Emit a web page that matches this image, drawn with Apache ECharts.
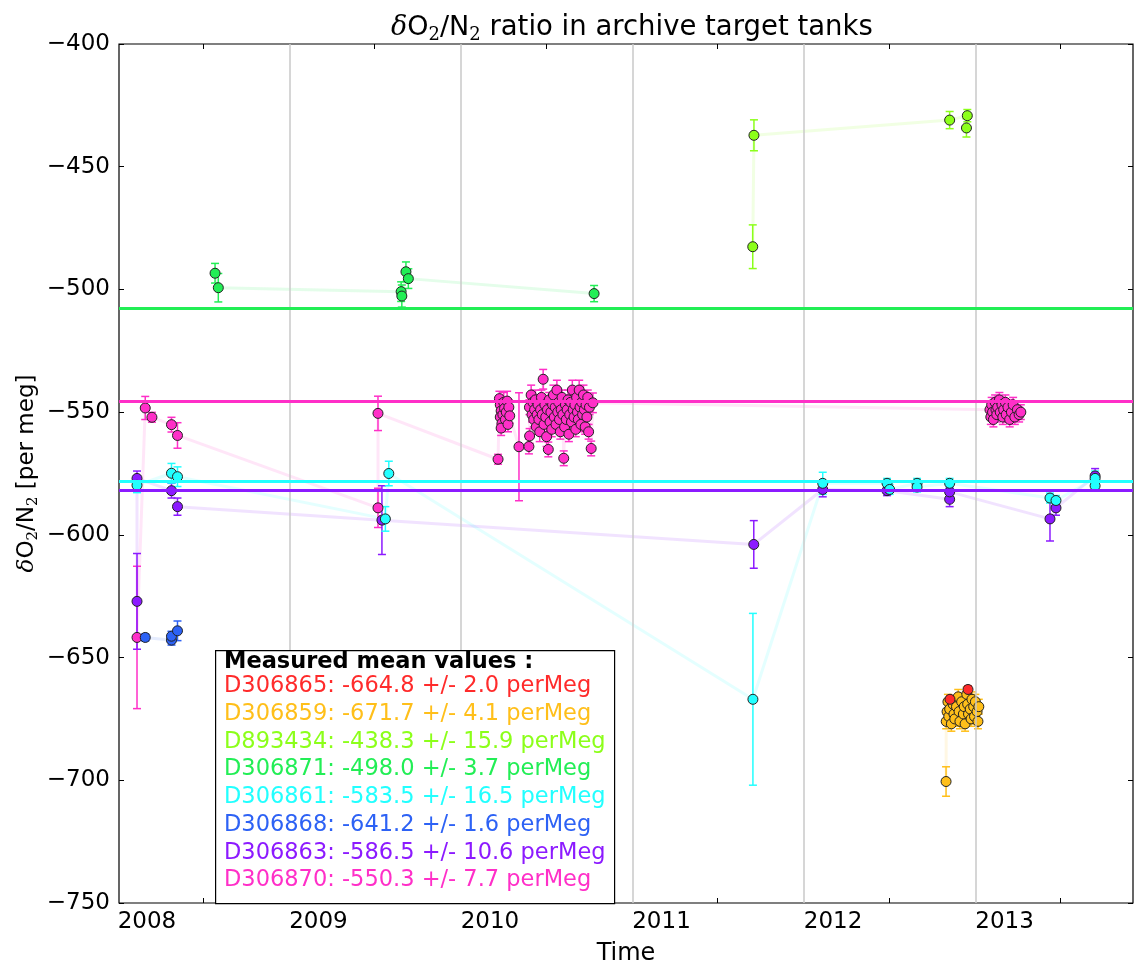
<!DOCTYPE html>
<html>
<head>
<meta charset="utf-8">
<title>dO2/N2 ratio in archive target tanks</title>
<script src="https://cdn.jsdelivr.net/npm/echarts@6/dist/echarts.min.js"></script>
<style>
  html, body { margin: 0; padding: 0; background: #fff; }
  #chart { width: 1134px; height: 960px; }
</style>
</head>
<body>
<div id="chart"></div>
<script>
// x axis is decimal years
const xMin = 2007.837;
const xMax = 2013.749;
const yearLabels = [2008, 2009, 2010, 2011, 2012, 2013];
const xTickValues = [2008.327, 2009.327, 2010.327, 2011.327, 2012.327, 2013.327];
const gridLineValues = [2008.833, 2009.833, 2010.833, 2011.833, 2012.833];
const yMin = -750, yMax = -400, yStep = 50;

// tanks, in legend order
const tankNames = ['D306865', 'D306859', 'D893434', 'D306871', 'D306861', 'D306868', 'D306863', 'D306870'];
const tankColors = ['#ff2b2b', '#ffbf1a', '#8cff1a', '#22ee55', '#22ffff', '#2d62f5', '#8c1aff', '#ff2fc8'];
const tankMeans = [-664.8, -671.7, -438.3, -498.0, -583.5, -641.2, -586.5, -550.3];
const tankErrs = [2.0, 4.1, 15.9, 3.7, 16.5, 1.6, 10.6, 7.7];

// horizontal reference lines
const refTanks = ['D306871', 'D306870', 'D306861', 'D306863'];
const refValues = [-507.7, -545.5, -578.0, -582.0];

// measurements: [time, value, error]
const d306865 = [[2012.682, -667.0, 1.5], [2012.787, -663.0, 1.5]];
const d306859 = [
  [2012.659, -700.5, 6], [2012.66, -676, 3], [2012.665, -672, 3], [2012.67, -668, 3], [2012.675, -674, 3],
  [2012.68, -671, 3], [2012.69, -677, 3], [2012.70, -669, 3], [2012.705, -673, 3], [2012.71, -675, 3],
  [2012.72, -670, 3], [2012.73, -666, 3], [2012.735, -672, 3], [2012.74, -676, 3], [2012.75, -668, 3],
  [2012.76, -673, 3], [2012.765, -670, 3], [2012.77, -677, 3], [2012.78, -665, 3], [2012.785, -669, 3],
  [2012.79, -673, 3], [2012.80, -671, 3], [2012.805, -675, 3], [2012.81, -667, 3], [2012.82, -670, 3],
  [2012.825, -674, 3], [2012.83, -668, 3], [2012.84, -672, 3], [2012.845, -676, 3], [2012.85, -670, 3]
];
const d893434 = [[2011.532, -482.6, 8.9], [2011.539, -437.2, 6.3], [2012.680, -431.0, 3.5], [2012.783, -429.2, 2.5], [2012.778, -434.2, 3.7]];
const d306871 = [[2008.397, -493.4, 4], [2008.416, -499.3, 5.8], [2009.482, -500.9, 4], [2009.486, -502.7, 4.5], [2009.510, -492.8, 4], [2009.524, -495.6, 4], [2010.607, -501.7, 3.3]];
const d306861 = [
  [2007.942, -579.8, 3], [2008.143, -574.9, 4], [2008.178, -576.3, 4], [2009.39, -593.5, 5], [2009.41, -575, 5],
  [2011.533, -667, 35], [2011.94, -579, 4.5], [2012.315, -579, 2], [2012.33, -581.5, 2], [2012.49, -579, 2],
  [2012.49, -580.5, 2], [2012.68, -579, 2], [2013.265, -585, 2], [2013.30, -586, 2], [2013.528, -577, 3], [2013.528, -580, 2]
];
const d306868 = [[2007.990, -641.8, 1.5], [2008.143, -642.9, 2], [2008.143, -641.3, 2], [2008.178, -639.1, 4]];
const d306863 = [
  [2007.942, -627.1, 19.5], [2007.942, -577, 3], [2008.143, -582, 3], [2008.178, -588.5, 3.5], [2009.37, -594, 14],
  [2011.538, -603.9, 9.7], [2011.94, -581.5, 3], [2012.315, -582, 2], [2012.68, -585.5, 3], [2012.68, -582.5, 2],
  [2013.265, -593.5, 9], [2013.30, -589, 3], [2013.528, -576, 3]
];
const d306870 = [
  [2007.942, -641.8, 29], [2007.990, -548.3, 4.7], [2008.029, -552.1, 2], [2008.143, -555.1, 3], [2008.178, -559.5, 5.2],
  [2009.347, -589, 8], [2009.347, -550.5, 7], [2010.047, -569.2, 2],
  [2010.055, -544.5, 3], [2010.06, -547, 3], [2010.065, -549.5, 3], [2010.06, -552, 3], [2010.07, -554.5, 3],
  [2010.065, -556.5, 3], [2010.075, -551, 3], [2010.08, -546, 4], [2010.085, -548.5, 3], [2010.09, -553, 3],
  [2010.095, -550, 3], [2010.1, -545.5, 4], [2010.105, -555, 3], [2010.11, -548, 3], [2010.115, -551.5, 3],
  [2010.169, -564.1, 22], [2010.227, -564, 3], [2010.231, -559.7, 3],
  [2010.23, -548, 3], [2010.24, -543, 4], [2010.245, -551, 3], [2010.25, -546, 3], [2010.255, -553, 3],
  [2010.26, -549, 3], [2010.265, -545, 4], [2010.27, -556, 3], [2010.275, -551, 3], [2010.28, -547, 3],
  [2010.285, -553, 3], [2010.29, -558, 4], [2010.295, -549, 3], [2010.30, -544, 3], [2010.305, -551, 3],
  [2010.31, -536.6, 4], [2010.315, -555, 3], [2010.32, -547, 3], [2010.325, -552, 3], [2010.33, -560, 4],
  [2010.335, -549, 3], [2010.34, -565.2, 3], [2010.345, -545, 3], [2010.35, -554, 3], [2010.355, -550, 3],
  [2010.36, -557, 3], [2010.365, -547, 3], [2010.37, -543, 4], [2010.375, -552, 3], [2010.38, -548, 3],
  [2010.385, -555, 3], [2010.39, -541, 4], [2010.395, -550, 3], [2010.40, -546, 3], [2010.405, -553, 3],
  [2010.41, -558, 3], [2010.415, -549, 3], [2010.42, -544, 3], [2010.425, -551, 3], [2010.43, -568.8, 3],
  [2010.435, -556, 3], [2010.44, -547, 3], [2010.445, -553, 3], [2010.45, -549, 3], [2010.455, -545, 4],
  [2010.46, -559, 3], [2010.465, -551, 3], [2010.47, -546, 3], [2010.475, -554, 3], [2010.48, -541, 4],
  [2010.485, -549, 3], [2010.49, -552, 3], [2010.495, -547, 3], [2010.50, -557, 3], [2010.505, -544, 3],
  [2010.51, -550, 3], [2010.515, -553, 3], [2010.52, -541, 4], [2010.525, -548, 3], [2010.53, -555, 3],
  [2010.535, -546, 3], [2010.54, -551, 3], [2010.545, -543, 4], [2010.55, -549, 3], [2010.555, -556, 3],
  [2010.56, -547, 3], [2010.565, -552, 3], [2010.57, -544, 3], [2010.575, -558, 3], [2010.58, -548, 3],
  [2010.59, -564.8, 3], [2010.60, -546.2, 4],
  [2012.915, -549, 3], [2012.92, -552, 3], [2012.925, -547, 3], [2012.93, -550, 3], [2012.935, -553, 3],
  [2012.945, -546, 3], [2012.95, -549, 3], [2012.955, -551, 3], [2012.96, -548, 3], [2012.97, -545, 3],
  [2012.975, -550, 3], [2012.985, -547, 3], [2012.99, -552, 3], [2012.995, -549, 3], [2013.005, -546, 3],
  [2013.01, -551, 3], [2013.02, -548, 3], [2013.03, -553, 3], [2013.04, -550, 3], [2013.05, -547, 3],
  [2013.06, -552, 3], [2013.075, -549, 3], [2013.085, -551, 3], [2013.095, -550, 3]
];
const tankData = [d306865, d306859, d893434, d306871, d306861, d306868, d306863, d306870];

const FONT = 'DejaVu Sans';
const fmtMinus = v => String(v).replace('-', '\u2212');

// vertical error bar with caps
function errorBar(color) {
  return function (params, api) {
    const x = api.value(0), y = api.value(1), e = api.value(2);
    const top = api.coord([x, y + e]);
    const bot = api.coord([x, y - e]);
    const st = { stroke: color, lineWidth: 1.5 };
    return {
      type: 'group',
      children: [
        { type: 'line', shape: { x1: top[0], y1: top[1], x2: bot[0], y2: bot[1] }, style: st },
        { type: 'line', shape: { x1: top[0] - 4, y1: top[1], x2: top[0] + 4, y2: top[1] }, style: st },
        { type: 'line', shape: { x1: bot[0] - 4, y1: bot[1], x2: bot[0] + 4, y2: bot[1] }, style: st }
      ]
    };
  };
}

let series = [];

// year gridlines
series.push({
  type: 'line', data: [], silent: true, z: 0,
  markLine: {
    symbol: 'none', silent: true, label: { show: false },
    lineStyle: { color: '#c8c8c8', width: 1.5, type: 'solid' },
    data: gridLineValues.map(v => ({ xAxis: v }))
  }
});

// drawn last tank first, so red ends up on top
const drawOrder = tankNames.map((n, i) => i).reverse();

drawOrder.forEach(i => {
  const pts = tankData[i];
  const col = tankColors[i];
  // faint connecting line
  series.push({
    name: tankNames[i] + ' trend', type: 'line', data: pts.map(p => [p[0], p[1]]),
    showSymbol: false, silent: true, z: 1,
    lineStyle: { color: col, width: 3, opacity: 0.12 }
  });
  series.push({
    name: tankNames[i] + ' err', type: 'custom', data: pts, z: 2, silent: true,
    encode: { x: 0, y: 1 },
    renderItem: errorBar(col)
  });
});

// reference lines
refTanks.forEach((t, k) => {
  const col = tankColors[tankNames.indexOf(t)];
  series.push({
    type: 'line', data: [], silent: true, z: 3,
    markLine: {
      symbol: 'none', silent: true, label: { show: false },
      lineStyle: { color: col, width: 3, type: 'solid', opacity: 1 },
      data: [{ yAxis: refValues[k] }]
    }
  });
});

drawOrder.forEach(i => {
  series.push({
    name: tankNames[i], type: 'scatter', data: tankData[i].map(p => [p[0], p[1]]),
    symbolSize: 10, z: 4,
    itemStyle: { color: tankColors[i], borderColor: '#222', borderWidth: 1, opacity: 1 }
  });
});

const chart = echarts.init(document.getElementById('chart'));

// legend box text
const legendLines = tankNames.map((n, i) => ({
  type: 'text', left: 224, top: 675 + i * 27.7, z: 102,
  style: {
    text: n + ': ' + tankMeans[i].toFixed(1) + ' +/- ' + tankErrs[i].toFixed(1) + ' perMeg',
    fill: tankColors[i], font: '22.5px "DejaVu Sans"'
  }
}));

const sub = { fontFamily: 'DejaVu Serif', fontWeight: 'normal', fontSize: 18, lineHeight: 20, padding: [14, 0, 0, 0] };

chart.setOption({
  animation: false,
  backgroundColor: '#fff',
  title: {
    text: '{d|δ}{m|O}{s|2}{m|/N}{s|2}{t| ratio in archive target tanks}',
    left: 386, top: 6,
    textStyle: {
      fontWeight: 'normal',
      rich: {
        d: { fontFamily: 'DejaVu Serif', fontStyle: 'italic', fontWeight: 'normal', fontSize: 27, lineHeight: 34, color: '#000' },
        m: { fontFamily: FONT, fontWeight: 'normal', fontSize: 27, lineHeight: 34, color: '#000' },
        s: Object.assign({ color: '#000' }, sub),
        t: { fontFamily: FONT, fontWeight: 'normal', fontSize: 27.5, lineHeight: 34, color: '#000' }
      }
    }
  },
  grid: {
    left: 119, right: 1, top: 44, bottom: 57,
    outerBoundsMode: 'none', containLabel: false,
    show: true, borderColor: '#000', borderWidth: 1.2, backgroundColor: 'transparent'
  },
  xAxis: [{
    type: 'value', min: xMin, max: xMax, position: 'bottom',
    name: 'Time', nameLocation: 'middle', nameGap: 39, nameMoveOverlap: false,
    nameTextStyle: { fontFamily: FONT, fontSize: 24, color: '#000' },
    axisLine: { show: false },
    splitLine: { show: false },
    axisTick: { show: true, inside: true, length: 5, customValues: xTickValues, lineStyle: { color: '#000' } },
    axisLabel: {
      customValues: yearLabels, margin: 8,
      fontFamily: FONT, fontSize: 23, color: '#000',
      formatter: v => String(Math.round(v))
    }
  }, {
    type: 'value', min: xMin, max: xMax, position: 'top',
    axisLine: { show: false }, splitLine: { show: false },
    axisTick: { show: true, inside: true, length: 5, customValues: xTickValues, lineStyle: { color: '#000' } },
    axisLabel: { show: false }
  }],
  yAxis: [{
    type: 'value', min: yMin, max: yMax, interval: yStep, position: 'left',
    name: '{d|δ}{m|O}{s|2}{m|/N}{s|2}{m| [per meg]}',
    nameLocation: 'middle', nameGap: 77, nameRotate: 90, nameMoveOverlap: false,
    nameTextStyle: {
      rich: {
        d: { fontFamily: 'DejaVu Serif', fontStyle: 'italic', fontSize: 23, lineHeight: 30, color: '#000' },
        m: { fontFamily: FONT, fontSize: 23, lineHeight: 30, color: '#000' },
        s: { fontFamily: 'DejaVu Serif', fontSize: 15, lineHeight: 16, padding: [12, 0, 0, 0], color: '#000' }
      }
    },
    axisLine: { show: false },
    splitLine: { show: false },
    axisTick: { show: true, inside: true, length: 5, lineStyle: { color: '#000' } },
    axisLabel: { margin: 9, fontFamily: FONT, fontSize: 23, color: '#000', formatter: fmtMinus }
  }, {
    type: 'value', min: yMin, max: yMax, interval: yStep, position: 'right',
    axisLine: { show: false }, splitLine: { show: false },
    axisTick: { show: true, inside: true, length: 5, lineStyle: { color: '#000' } },
    axisLabel: { show: false }
  }],
  series: series,
  graphic: [
    { type: 'rect', left: 215, top: 650, z: 100, shape: { width: 399, height: 253 },
      style: { fill: '#fff', stroke: '#000', lineWidth: 1.2 } },
    { type: 'text', left: 224, top: 651, z: 102,
      style: { text: 'Measured mean values :', fill: '#000', font: 'bold 22.5px "DejaVu Sans"' } }
  ].concat(legendLines)
});
</script>
</body>
</html>
